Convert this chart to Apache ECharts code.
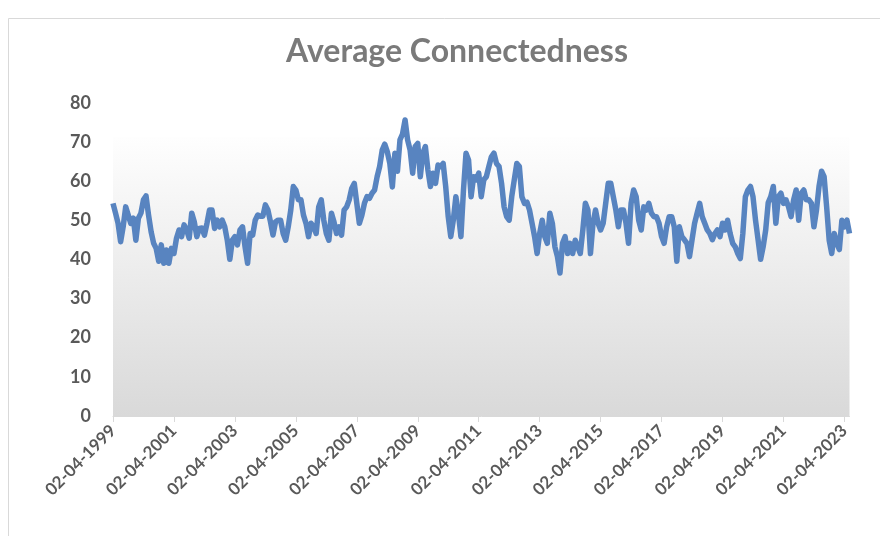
<!DOCTYPE html>
<html>
<head>
<meta charset="utf-8">
<script src="https://cdn.jsdelivr.net/npm/echarts@6/dist/echarts.min.js"></script>
<style>
  html, body { margin: 0; padding: 0; background: #ffffff; }
  #chart { width: 880px; height: 536px; }
</style>
</head>
<body>
<div id="chart"></div>
<script>
// Monthly observations, first reading of each month (02-04-1999 .. 02-06-2023)
const startYear = 1999;
const startMonth = 4;
const connectedness = [
  54.3, 51.8, 49.2, 44.5, 48.3, 53.4, 51.3, 49.2, 50.5, 44.9, 50.5, 51.8,
  55.2, 56.2, 51.3, 47.1, 44.1, 42.8, 39.5, 43.7, 39.0, 42.4, 39.0, 42.8,
  41.5, 45.4, 47.5, 45.8, 48.8, 47.5, 45.4, 51.8, 49.6, 45.8, 47.9, 48.0,
  46.2, 49.2, 52.6, 52.6, 47.9, 50.0, 48.3, 50.0, 48.3, 44.9, 40.0, 44.9,
  45.8, 43.7, 47.5, 48.3, 43.2, 39.0, 46.6, 46.2, 50.0, 51.3, 51.0, 51.0,
  53.9, 52.6, 49.6, 46.2, 49.6, 50.0, 50.0, 46.6, 44.9, 48.3, 52.6, 58.6,
  57.7, 55.2, 55.2, 51.3, 49.2, 45.8, 49.2, 48.3, 46.6, 53.4, 55.2, 50.0,
  46.6, 44.9, 51.8, 49.6, 46.6, 48.3, 46.2, 52.6, 53.4, 55.2, 58.1, 59.4,
  54.3, 49.2, 51.3, 54.3, 56.0, 55.6, 56.9, 57.7, 61.1, 63.7, 67.9, 69.4,
  67.5, 64.5, 58.5, 67.1, 62.5, 70.5, 72.0, 75.6, 70.5, 67.9, 62.0, 68.8,
  69.6, 61.1, 67.1, 68.8, 62.8, 58.6, 62.0, 59.4, 64.1, 63.7, 64.5, 58.6,
  50.9, 45.8, 50.0, 56.0, 51.8, 45.8, 57.7, 67.1, 65.4, 56.0, 61.1, 60.3,
  62.0, 56.0, 60.3, 61.1, 63.7, 66.2, 67.1, 64.5, 63.7, 59.4, 53.4, 50.9,
  50.0, 56.0, 60.3, 64.5, 63.7, 56.0, 54.3, 54.6, 52.6, 49.2, 45.8, 41.5,
  46.6, 50.0, 45.8, 44.1, 51.8, 49.2, 43.2, 40.7, 36.5, 44.1, 45.8, 41.5,
  44.1, 41.5, 44.9, 43.2, 41.5, 47.5, 54.3, 52.6, 41.5, 49.2, 52.6, 49.2,
  47.5, 49.2, 54.3, 59.4, 59.4, 56.0, 52.6, 48.3, 52.6, 52.6, 49.2, 44.1,
  54.3, 57.7, 56.0, 50.0, 47.5, 53.4, 52.6, 54.3, 51.8, 50.9, 50.9, 49.2,
  45.8, 44.1, 48.3, 50.9, 50.9, 48.3, 39.5, 48.3, 45.8, 45.0, 44.1, 40.7,
  45.0, 49.2, 51.8, 54.3, 50.9, 49.2, 47.5, 46.6, 45.0, 46.6, 47.5, 45.8,
  49.2, 47.5, 50.0, 46.6, 44.1, 43.2, 41.5, 40.2, 46.6, 56.0, 57.7, 58.6,
  56.0, 50.0, 45.0, 40.0, 43.2, 47.5, 54.5, 56.0, 58.6, 49.2, 56.0, 56.9,
  54.3, 55.2, 53.4, 50.9, 55.2, 57.7, 50.0, 56.9, 57.7, 55.2, 55.2, 54.3,
  48.3, 52.6, 58.6, 62.5, 61.1, 53.4, 44.9, 41.5, 46.6, 44.1, 42.5, 50.0,
  48.3, 50.0, 46.6
];

// Date labels in DD-MM-YYYY form, one per observation
const dates = connectedness.map(function (_, i) {
  const m = startMonth - 1 + i;
  const year = startYear + Math.floor(m / 12);
  const month = (m % 12) + 1;
  return '02-' + (month < 10 ? '0' + month : '' + month) + '-' + year;
});

// Shaded plot band (value range) and value-axis ticks
const bandRange = [0, 71.2];
const yTicks = [0, 10, 20, 30, 40, 50, 60, 70, 80];
const labelEvery = 24; // one date label every two years

const chart = echarts.init(document.getElementById('chart'), null, { renderer: 'canvas' });

chart.setOption({
  backgroundColor: '#ffffff',
  animation: false,
  title: {
    text: 'Average Connectedness',
    left: 452,
    top: 31,
    textAlign: 'center',
    textStyle: {
      fontFamily: 'Lato',
      fontWeight: 'bold',
      fontSize: 32,
      color: '#7a7a7a'
    }
  },
  graphic: [{
    type: 'rect',
    silent: true,
    shape: { x: 8.5, y: 18.5, width: 900, height: 600 },
    style: { fill: 'none', stroke: '#d9d9d9', lineWidth: 1 }
  }],
  grid: {
    left: 113,
    right: 30.5,
    top: 102.7,
    bottom: 120,
    containLabel: false
  },
  xAxis: {
    type: 'category',
    data: dates,
    boundaryGap: false,
    axisLine: { show: true, lineStyle: { color: '#d9d9d9', width: 1 } },
    axisTick: {
      show: true,
      alignWithLabel: true,
      interval: labelEvery - 1,
      length: 6,
      lineStyle: { color: '#d9d9d9' }
    },
    axisLabel: {
      interval: labelEvery - 1,
      rotate: 45,
      margin: 12,
      fontFamily: 'Lato',
      fontWeight: 'bold',
      fontSize: 17,
      color: '#595959'
    },
    splitLine: { show: false }
  },
  yAxis: {
    type: 'value',
    min: yTicks[0],
    max: yTicks[yTicks.length - 1],
    interval: yTicks[1] - yTicks[0],
    axisLine: { show: false },
    axisTick: { show: false },
    splitLine: { show: false },
    axisLabel: {
      margin: 22,
      fontFamily: 'Lato',
      fontWeight: 'bold',
      fontSize: 18,
      color: '#595959'
    }
  },
  series: [{
    name: 'Average Connectedness',
    type: 'line',
    data: connectedness,
    symbol: 'none',
    smooth: false,
    lineStyle: { color: '#5884c0', width: 5.5, join: 'round' },
    markArea: {
      silent: true,
      itemStyle: {
        color: new echarts.graphic.LinearGradient(0, 0, 0, 1, [
          { offset: 0, color: '#fefefe' },
          { offset: 1, color: '#d9d9d9' }
        ])
      },
      data: [[{ yAxis: bandRange[0] }, { yAxis: bandRange[1] }]]
    }
  }]
});
</script>
</body>
</html>
